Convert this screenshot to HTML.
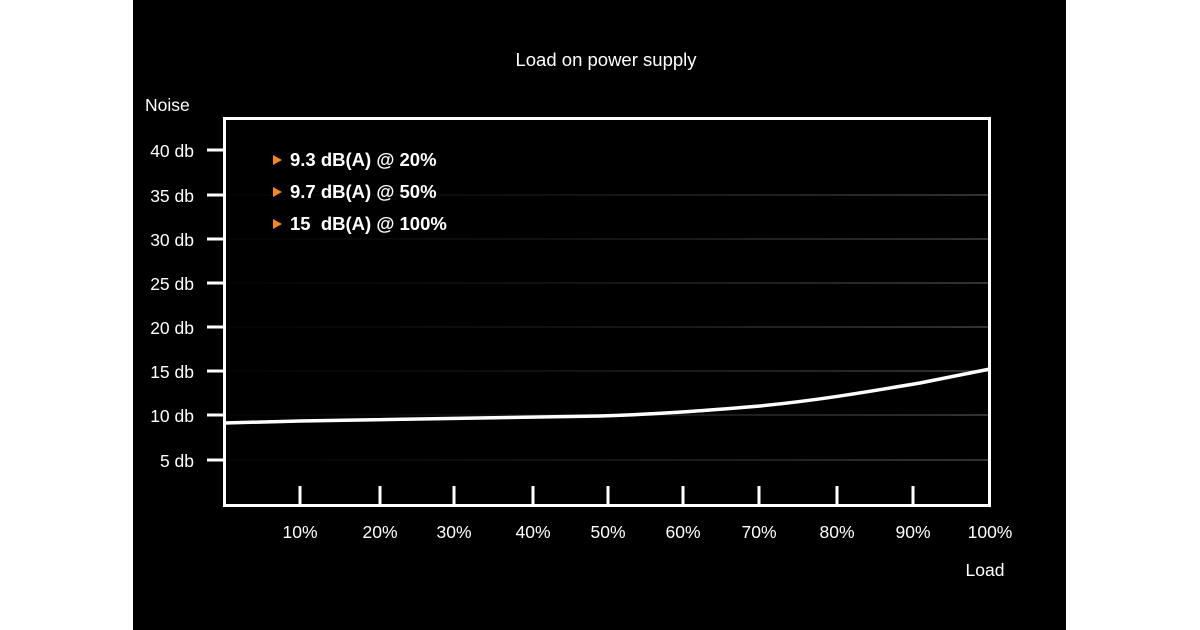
<!DOCTYPE html>
<html><head><style>
html,body{margin:0;padding:0;background:#fff;width:1200px;height:630px;overflow:hidden}
#p{position:absolute;left:133px;top:0;width:933px;height:630px;background:#000}
svg{position:absolute;left:0;top:0}
text{font-family:"Liberation Sans",sans-serif;fill:#fff}
</style></head><body>
<div id="p"></div>
<svg width="1200" height="630" viewBox="0 0 1200 630">
<defs><linearGradient id="g" x1="0" x2="1"><stop offset="0" stop-color="#111" stop-opacity="0.2"/><stop offset="1" stop-color="#333"/></linearGradient></defs>
<text x="606" y="66" font-size="18.5" text-anchor="middle">Load on power supply</text>
<text x="145" y="111" font-size="17.5">Noise</text>
<g fill="url(#g)">
<rect x="226" y="194" width="762" height="2"/><rect x="226" y="238" width="762" height="2"/>
<rect x="226" y="282" width="762" height="2"/><rect x="226" y="326" width="762" height="2"/>
<rect x="226" y="370" width="762" height="2"/><rect x="226" y="414" width="762" height="2"/>
<rect x="226" y="459" width="762" height="2"/>
</g>
<rect x="224.5" y="118.5" width="765" height="387" fill="none" stroke="#fff" stroke-width="3"/>
<g stroke="#fff" stroke-width="3">
<line x1="207" y1="150" x2="224" y2="150"/><line x1="207" y1="195" x2="224" y2="195"/>
<line x1="207" y1="239" x2="224" y2="239"/><line x1="207" y1="283" x2="224" y2="283"/>
<line x1="207" y1="327" x2="224" y2="327"/><line x1="207" y1="371" x2="224" y2="371"/>
<line x1="207" y1="415" x2="224" y2="415"/><line x1="207" y1="460" x2="224" y2="460"/>
<line x1="300" y1="486" x2="300" y2="505"/><line x1="380" y1="486" x2="380" y2="505"/>
<line x1="454" y1="486" x2="454" y2="505"/><line x1="533" y1="486" x2="533" y2="505"/>
<line x1="608" y1="486" x2="608" y2="505"/><line x1="683" y1="486" x2="683" y2="505"/>
<line x1="759" y1="486" x2="759" y2="505"/><line x1="837" y1="486" x2="837" y2="505"/>
<line x1="913" y1="486" x2="913" y2="505"/>
</g>
<g font-size="17.5" text-anchor="end">
<text x="194" y="157">40 db</text><text x="194" y="202">35 db</text><text x="194" y="246">30 db</text>
<text x="194" y="290">25 db</text><text x="194" y="334">20 db</text><text x="194" y="378">15 db</text>
<text x="194" y="422">10 db</text><text x="194" y="467">5 db</text>
</g>
<g font-size="17.5" text-anchor="middle">
<text x="300" y="538">10%</text><text x="380" y="538">20%</text><text x="454" y="538">30%</text>
<text x="533" y="538">40%</text><text x="608" y="538">50%</text><text x="683" y="538">60%</text>
<text x="759" y="538">70%</text><text x="837" y="538">80%</text><text x="913" y="538">90%</text>
<text x="990" y="538">100%</text>
<text x="985" y="576">Load</text>
</g>
<g fill="#f08a1c"><polygon points="273,155 273,165 282,160"/><polygon points="273,187 273,197 282,192"/><polygon points="273,219 273,229 282,224"/></g>
<g font-size="18.5" font-weight="bold">
<text x="290" y="166">9.3 dB(A) @ 20%</text>
<text x="290" y="198">9.7 dB(A) @ 50%</text>
<text x="290" y="230" xml:space="preserve">15  dB(A) @ 100%</text>
</g>
<path d="M224,423 L300,421 C400,420 500,418 600,416 C660,414 700,411 760,406 C820,400 860,393 920,383 C950,377 970,373 990,369" fill="none" stroke="#fff" stroke-width="3.5"/>
</svg>
</body></html>
